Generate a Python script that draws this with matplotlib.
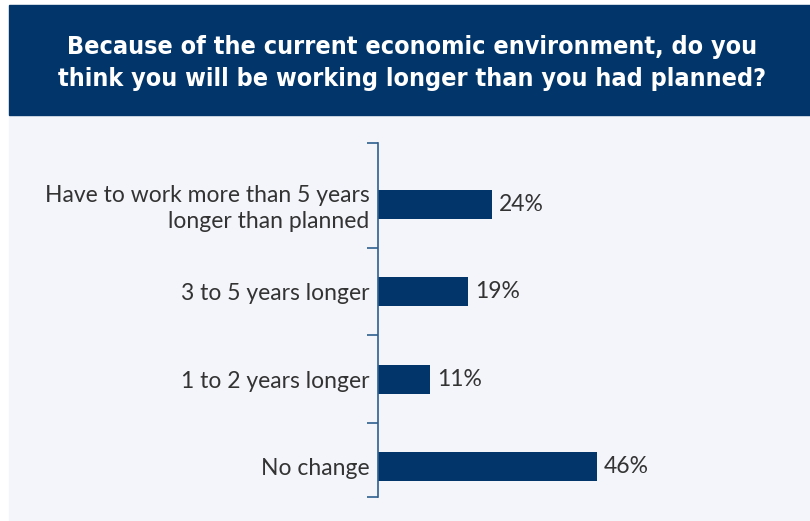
import matplotlib
matplotlib.use("Agg")
import matplotlib.pyplot as plt
from matplotlib.patches import Rectangle

# survey answers, top to bottom
categories = ["Have to work more than 5 years\nlonger than planned",
              "3 to 5 years longer",
              "1 to 2 years longer",
              "No change"]
shares = [24, 19, 11, 46]

title = ("Because of the current economic environment, do you\n"
         "think you will be working longer than you had planned?")

navy = "#02366a"
panel = "#f4f5fa"
text_grey = "#333333"

W, H = 810, 521
fig = plt.figure(figsize=(W / 100, H / 100), dpi=100)
fig.patch.set_facecolor("white")

# light panel and dark title band
fig.patches.append(Rectangle((9 / W, 0), 1, (H - 115) / H,
                             transform=fig.transFigure, color=panel, zorder=-5))
fig.patches.append(Rectangle((9 / W, (H - 115) / H), 1, 110 / H,
                             transform=fig.transFigure, color=navy, zorder=-5))
fig.text((9 + W) / 2 / W + 0.003, (H - 63) / H, title, ha="center", va="center",
         color="white", fontsize=18, fontweight="bold", fontstretch="condensed",
         linespacing=1.45, family="DejaVu Sans")

px_per_pct = 4.76
ax = fig.add_axes([378 / W, (H - 497) / H, 90 * px_per_pct / W, 354 / H])
ax.patch.set_alpha(0)

ypos = list(range(len(categories)))
ax.barh(ypos, shares, height=0.33, color=navy, zorder=2)
for y, v in zip(ypos, shares):
    ax.text(v + 1.4, y, f"{v}%", va="center", ha="left", fontsize=16.5,
            color=text_grey, family="Lato")

top, bottom = -0.704, 3.35
ax.set_ylim(bottom, top)
ax.set_xlim(0, 90)

ax.set_yticks(ypos)
ax.set_yticklabels(categories, fontsize=16.5, color=text_grey, family="Lato",
                   multialignment="right", linespacing=1.25)
ax.set_yticks([top, 0.5, 1.5, 2.5, bottom], minor=True)
ax.tick_params(axis="y", which="major", length=0, pad=6)
ax.tick_params(axis="y", which="minor", length=8, width=1.2, color="#2f5f8f")
ax.set_xticks([])

for side in ["top", "right", "bottom"]:
    ax.spines[side].set_visible(False)
ax.spines["left"].set_color("#2f5f8f")
ax.spines["left"].set_linewidth(1.2)

fig.savefig("out.png", dpi=100, facecolor=fig.get_facecolor())
